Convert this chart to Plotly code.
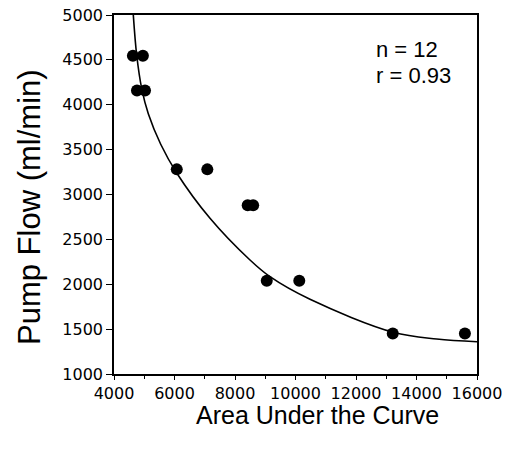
import plotly.graph_objects as go

# Data points
auc = [4625, 4955, 4760, 5025, 6075, 7085, 8420, 8600, 9050, 10125, 13215, 15600]
flow = [4545, 4545, 4160, 4160, 3280, 3280, 2880, 2880, 2040, 2040, 1450, 1450]

# Fitted curve
curve_x = [4638, 4750, 4916, 5134, 5544, 6073, 7174, 8496, 9157, 10479, 13233, 14668, 16000]
curve_y = [5000, 4554, 4179, 3900, 3560, 3240, 2735, 2270, 2084, 1832, 1465, 1390, 1360]

x_ticks = [4000, 6000, 8000, 10000, 12000, 14000, 16000]
y_ticks = [1000, 1500, 2000, 2500, 3000, 3500, 4000, 4500, 5000]

L, R, T, B = 114, 29, 15, 75
W, H = 506, 449
pw, ph = W - L - R, H - T - B


def px(x):
    return (x - L) / pw


def py(y):
    return (H - B - y) / ph


fig = go.Figure()
fig.add_trace(go.Scatter(x=curve_x, y=curve_y, mode="lines",
                         line=dict(color="black", width=1.6, shape="spline", smoothing=1.0),
                         showlegend=False, hoverinfo="skip"))
fig.add_trace(go.Scatter(x=auc, y=flow, mode="markers",
                         marker=dict(color="black", size=12),
                         showlegend=False))

tickfont = dict(family="DejaVu Sans", size=16, color="black")
textfont = "Liberation Sans"
fig.update_layout(
    width=W, height=H,
    margin=dict(l=L, r=R, t=T, b=B, autoexpand=False),
    paper_bgcolor="white", plot_bgcolor="white",
    xaxis=dict(range=[4000, 16000], tickvals=x_ticks, ticktext=[str(v) for v in x_ticks],
               ticks="outside", ticklen=4, tickwidth=1, tickcolor="black",
               minor=dict(dtick=1000, ticks="outside", ticklen=3, tickcolor="black"),
               showline=True, linecolor="black", linewidth=1.5, mirror=True,
               showgrid=False, zeroline=False, tickfont=tickfont, automargin=False),
    yaxis=dict(range=[1000, 5000], tickvals=y_ticks, ticktext=[str(v) for v in y_ticks],
               ticks="outside", ticklen=6, tickwidth=1, tickcolor="black",
               showline=True, linecolor="black", linewidth=1.5, mirror=True,
               showgrid=False, zeroline=False, tickfont=tickfont, automargin=False),
    annotations=[
        dict(text="Area Under the Curve", x=px(317), y=py(415), xref="paper", yref="paper",
             xanchor="center", yanchor="middle", showarrow=False,
             font=dict(family=textfont, size=25, color="black")),
        dict(text="Pump Flow (ml/min)", x=px(30), y=py(207), xref="paper", yref="paper",
             xanchor="center", yanchor="middle", textangle=-90, showarrow=False,
             font=dict(family=textfont, size=31, color="black")),
        dict(text="n = 12", x=px(374), y=py(50), xref="paper", yref="paper",
             xanchor="left", yanchor="middle", showarrow=False,
             font=dict(family=textfont, size=22, color="black")),
        dict(text="r = 0.93", x=px(374), y=py(75), xref="paper", yref="paper",
             xanchor="left", yanchor="middle", showarrow=False,
             font=dict(family=textfont, size=22, color="black")),
    ],
)

fig.write_html("out.html", config={"displayModeBar": False},
               post_script="document.body.style.margin='0';")
